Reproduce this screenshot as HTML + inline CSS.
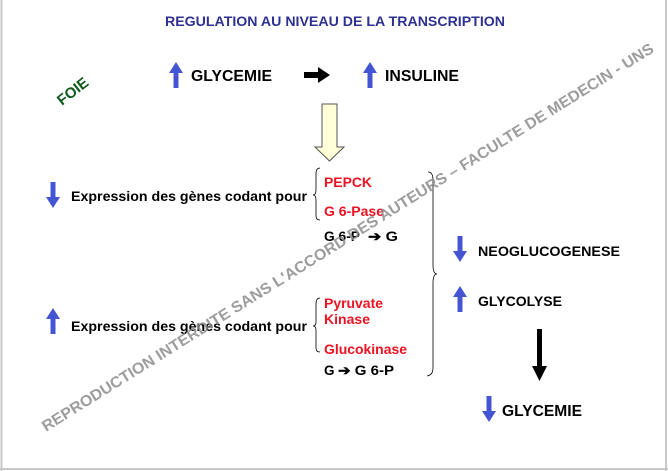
<!DOCTYPE html>
<html><head><meta charset="utf-8"><style>
html,body{margin:0;padding:0;background:#fff}
svg{display:block}
text{font-family:"Liberation Sans",Arial,sans-serif;font-weight:bold}
</style></head><body>
<svg width="668" height="471" viewBox="0 0 668 471" xmlns="http://www.w3.org/2000/svg">
<rect x="0" y="0" width="668" height="471" fill="#fff"/>
<line x1="1.5" y1="0" x2="1.5" y2="471" stroke="#c8c8c8" stroke-width="2"/>
<line x1="666" y1="0" x2="666" y2="471" stroke="#c8c8c8" stroke-width="2"/>
<line x1="0" y1="469" x2="668" y2="469" stroke="#c8c8c8" stroke-width="2"/>

<text x="165" y="26" font-size="14" fill="#2e3192" textLength="340" lengthAdjust="spacingAndGlyphs">REGULATION AU NIVEAU DE LA TRANSCRIPTION</text>

<text x="0" y="0" font-size="15" fill="#0f5b1c" transform="translate(62,106) rotate(-38)">FOIE</text>

<defs>
<g id="up"><polygon points="0,-13 7,-2 2.5,-2 2.5,13 -2.5,13 -2.5,-2 -7,-2" fill="#4455d4"/></g>
<g id="dn"><polygon points="0,13 7,2 2.5,2 2.5,-13 -2.5,-13 -2.5,2 -7,2" fill="#4455d4"/></g>
</defs>

<use href="#up" x="176" y="75"/>
<text x="191" y="81" font-size="15.5" fill="#000" textLength="81" lengthAdjust="spacingAndGlyphs">GLYCEMIE</text>
<polygon points="304,72 318,72 318,67 330,75 318,83 318,78 304,78" fill="#000"/>
<use href="#up" x="370" y="75"/>
<text x="385" y="81" font-size="15.5" fill="#000" textLength="74" lengthAdjust="spacingAndGlyphs">INSULINE</text>

<polygon points="322,104 337,104 337,147 344,147 329.5,161 315,147 322,147" fill="#ffffd8" stroke="#555" stroke-width="1"/>

<use href="#dn" x="53" y="195"/>
<text x="71" y="201" font-size="14" fill="#000" textLength="236" lengthAdjust="spacingAndGlyphs">Expression des gènes codant pour</text>
<path d="M320,168 Q316,168 316,174 L316,190 Q316,195 313,195 Q316,195 316,200 L316,216 Q316,220 320,220" fill="none" stroke="#000" stroke-width="0.8"/>
<text x="324" y="187" font-size="13.5" fill="#ee1122" textLength="48" lengthAdjust="spacingAndGlyphs">PEPCK</text>
<text x="324" y="216" font-size="13.5" fill="#ee1122" textLength="60" lengthAdjust="spacingAndGlyphs">G 6-Pase</text>
<text x="324" y="241" font-size="13.5" fill="#000" textLength="36" lengthAdjust="spacingAndGlyphs">G 6-P</text>
<text x="368" y="241" font-size="13.5" fill="#000" textLength="30" lengthAdjust="spacingAndGlyphs">➔ G</text>

<use href="#up" x="53" y="321"/>
<text x="71" y="331" font-size="14" fill="#000" textLength="236" lengthAdjust="spacingAndGlyphs">Expression des gènes codant pour</text>
<path d="M320,298 Q316,298 316,304 L316,322 Q316,326 313,326 Q316,326 316,330 L316,348 Q316,352 320,352" fill="none" stroke="#000" stroke-width="0.8"/>
<text x="324" y="308" font-size="13.5" fill="#ee1122" textLength="59" lengthAdjust="spacingAndGlyphs">Pyruvate</text>
<text x="324" y="324" font-size="13.5" fill="#ee1122" textLength="46" lengthAdjust="spacingAndGlyphs">Kinase</text>
<text x="324" y="354" font-size="13.5" fill="#ee1122" textLength="83" lengthAdjust="spacingAndGlyphs">Glucokinase</text>
<text x="324" y="375" font-size="13.5" fill="#000">G</text>
<text x="338" y="375" font-size="13.5" fill="#000" textLength="56" lengthAdjust="spacingAndGlyphs">➔ G 6-P</text>

<path d="M428,172 Q433,172 433,180 L433,265 Q433,274 437,274 Q433,274 433,283 L433,368 Q433,375 427,376" fill="none" stroke="#000" stroke-width="0.8"/>

<use href="#dn" x="460" y="249"/>
<text x="478" y="256" font-size="14" fill="#000" textLength="142" lengthAdjust="spacingAndGlyphs">NEOGLUCOGENESE</text>
<use href="#up" x="460" y="299"/>
<text x="478" y="306" font-size="14" fill="#000" textLength="84" lengthAdjust="spacingAndGlyphs">GLYCOLYSE</text>

<polygon points="537,329 542,329 542,366 547,366 539.5,381 532,366 537,366" fill="#000"/>

<use href="#dn" x="489" y="409"/>
<text x="502" y="416" font-size="15.5" fill="#000" textLength="80" lengthAdjust="spacingAndGlyphs">GLYCEMIE</text>

<text x="0" y="0" font-size="15.5" fill="#8c8c8c" fill-opacity="0.85" textLength="718" lengthAdjust="spacingAndGlyphs" transform="translate(46,432) rotate(-32)">REPRODUCTION INTERDITE SANS L'ACCORD DES AUTEURS – FACULTE DE MEDECIN - UNS</text>
</svg>
</body></html>
